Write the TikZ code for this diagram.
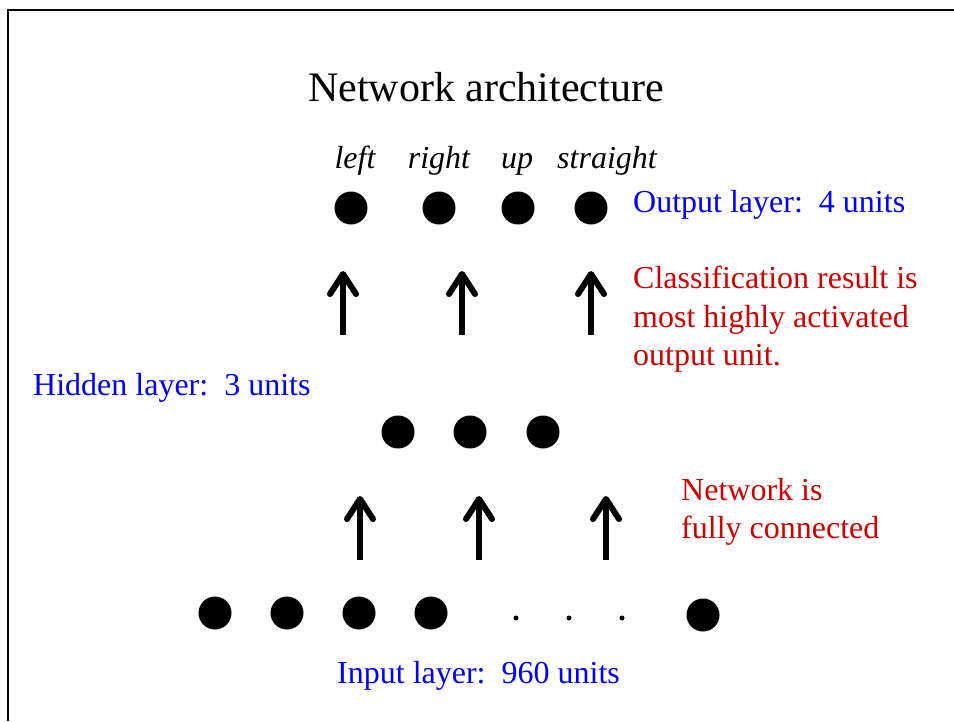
\documentclass[tikz,border=0pt]{standalone}
\usepackage{fontspec}
\setmainfont{Liberation Serif}
\usetikzlibrary{arrows.meta}
\definecolor{lblblue}{RGB}{0,0,255}
\definecolor{lblred}{RGB}{204,0,0}
\begin{document}
\begin{tikzpicture}[x=1pt,y=-1pt,
  unit/.style={circle,fill=black,inner sep=0pt,minimum size=33pt},
  smalldot/.style={circle,fill=black,inner sep=0pt,minimum size=5pt},
  title/.style={font=\fontsize{42}{48}\selectfont,anchor=base},
  outlbl/.style={font=\fontsize{32}{38}\selectfont\itshape,anchor=base},
  bluelbl/.style={font=\fontsize{32}{38}\selectfont,text=lblblue,anchor=base west,inner sep=0pt},
  redlbl/.style={font=\fontsize{32}{38.3}\selectfont,text=lblred,align=left,anchor=north west,inner sep=0pt},
  uparrow/.style={line width=6pt,-{Straight Barb[length=20pt,width=26pt,round]}},
  frame/.style={line width=2pt}]
\useasboundingbox (0,0) rectangle (954,721);
\draw[frame] (8,721) -- (8,10) -- (954,10);
% title
\node[title] (title) at (486,101) {Network architecture};
% output labels
\node[outlbl] (lleft) at (355,168) {left};
\node[outlbl] (lright) at (439,168) {right};
\node[outlbl] (lup) at (517,168) {up};
\node[outlbl] (lstraight) at (607,168) {straight};
% output units
\node[unit] (o1) at (351,208) {};
\node[unit] (o2) at (439,208) {};
\node[unit] (o3) at (518,208) {};
\node[unit] (o4) at (591,208) {};
\node[bluelbl] (outtxt) at (633,212) {Output layer:\ \ 4 units};
% upper arrows
\coordinate (ua1s) at (343,335); \coordinate (ua1e) at (343,271);
\coordinate (ua2s) at (462,335); \coordinate (ua2e) at (462,271);
\coordinate (ua3s) at (591,335); \coordinate (ua3e) at (591,271);
\draw[uparrow] (ua1s) -- (ua1e);
\draw[uparrow] (ua2s) -- (ua2e);
\draw[uparrow] (ua3s) -- (ua3e);
\node[redlbl] (classtxt) at (633,266) {Classification result is\\most highly activated\\output unit.};
% hidden
\node[bluelbl] (hidtxt) at (33,395) {Hidden layer:\ \ 3 units};
\node[unit] (h1) at (398,432) {};
\node[unit] (h2) at (470,432) {};
\node[unit] (h3) at (543,432) {};
% lower arrows
\coordinate (la1s) at (360,560); \coordinate (la1e) at (360,496);
\coordinate (la2s) at (479,560); \coordinate (la2e) at (479,496);
\coordinate (la3s) at (606,560); \coordinate (la3e) at (606,496);
\draw[uparrow] (la1s) -- (la1e);
\draw[uparrow] (la2s) -- (la2e);
\draw[uparrow] (la3s) -- (la3e);
\node[redlbl] (nettxt) at (681,478) {Network is\\fully connected};
% input
\node[unit] (i1) at (215,613) {};
\node[unit] (i2) at (287,613) {};
\node[unit] (i3) at (359,613) {};
\node[unit] (i4) at (431,613) {};
\node[smalldot] (d1) at (516,618) {};
\node[smalldot] (d2) at (569,618) {};
\node[smalldot] (d3) at (622,618) {};
\node[unit] (i5) at (703,615) {};
\node[bluelbl] (intxt) at (337,683) {Input layer:\ \ 960 units};
\end{tikzpicture}
\end{document}
